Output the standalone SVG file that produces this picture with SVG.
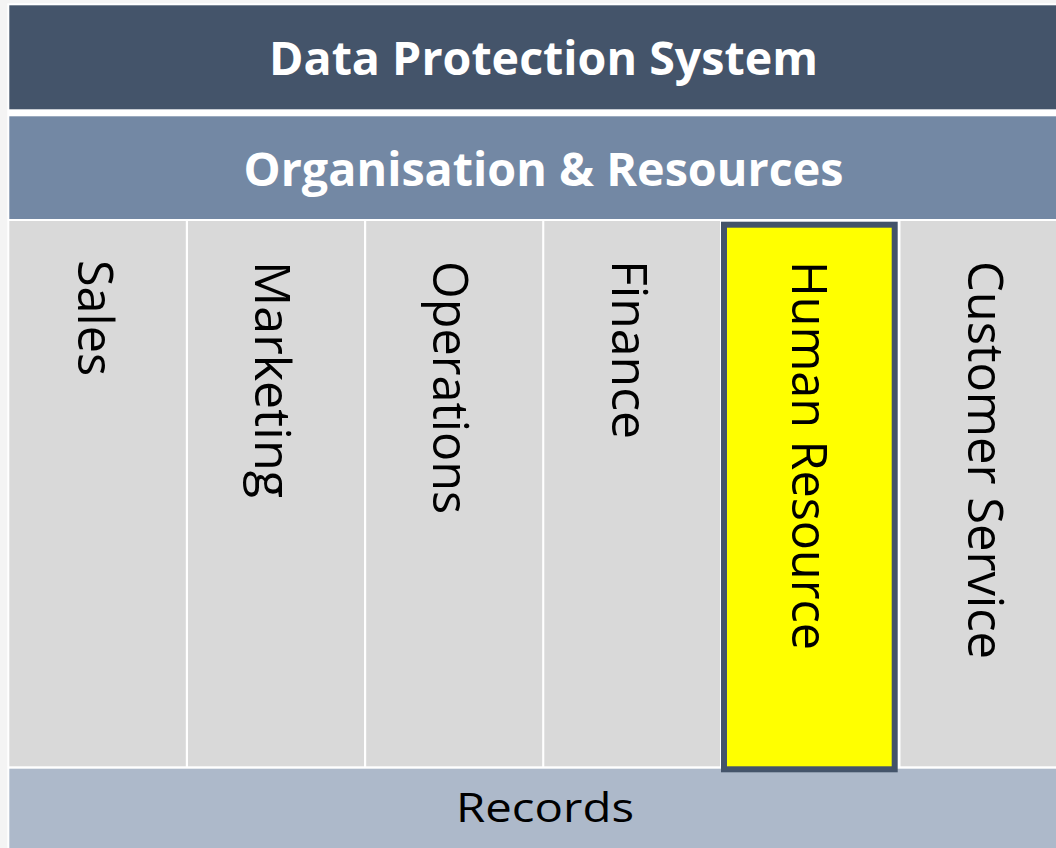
<svg xmlns="http://www.w3.org/2000/svg" width="1056" height="848" viewBox="0 0 1056 848">
  <style>
    .title { font-family: "Open Sans", "Liberation Sans", sans-serif; font-weight: bold; font-size: 47px; fill: #ffffff; }
    .dept { font-family: "Open Sans", "Liberation Sans", sans-serif; font-size: 50px; fill: #000000; }
    .rec { font-family: "Open Sans", "Liberation Sans", sans-serif; font-size: 41px; fill: #000000; }
    .col { fill: #d9d9d9; }
  </style>

  <!-- backdrop and slide area -->
  <rect x="0" y="0" width="1056" height="848" fill="#f4f4f4"/>
  <rect x="7.3" y="3.3" width="1048.7" height="844.7" fill="#ffffff"/>

  <g id="data-protection-system">
    <rect x="9.3" y="5.3" width="1046.7" height="104" fill="#44546a"/>
    <text class="title" x="543.5" y="75" text-anchor="middle" textLength="549" lengthAdjust="spacingAndGlyphs">Data Protection System</text>
  </g>

  <g id="organisation-resources">
    <rect x="9.3" y="116.3" width="1046.7" height="102.7" fill="#7388a4"/>
    <text class="title" x="543.5" y="186" text-anchor="middle" textLength="600" lengthAdjust="spacingAndGlyphs">Organisation &amp; Resources</text>
  </g>

  <g id="sales">
    <rect class="col" x="9.3" y="221" width="176.5" height="545.3"/>
    <text class="dept" transform="translate(77.5,260) rotate(90)" textLength="116" lengthAdjust="spacingAndGlyphs">Sales</text>
  </g>

  <g id="marketing">
    <rect class="col" x="188" y="221" width="176" height="545.3"/>
    <text class="dept" transform="translate(255,261) rotate(90)" textLength="237" lengthAdjust="spacingAndGlyphs">Marketing</text>
  </g>

  <g id="operations">
    <rect class="col" x="366.2" y="221" width="176" height="545.3"/>
    <text class="dept" transform="translate(433,261) rotate(90)" textLength="253" lengthAdjust="spacingAndGlyphs">Operations</text>
  </g>

  <g id="finance">
    <rect class="col" x="544.3" y="221" width="175.7" height="545.3"/>
    <text class="dept" transform="translate(611.5,260) rotate(90)" textLength="179" lengthAdjust="spacingAndGlyphs">Finance</text>
  </g>

  <g id="customer-service">
    <rect class="col" x="900.5" y="221" width="155.5" height="545.3"/>
    <text class="dept" transform="translate(968,261) rotate(90)" textLength="398" lengthAdjust="spacingAndGlyphs">Customer Service</text>
  </g>

  <g id="records">
    <rect x="9.3" y="768.7" width="1046.7" height="79.3" fill="#adb9ca"/>
    <text class="rec" x="545" y="822" text-anchor="middle" textLength="178" lengthAdjust="spacingAndGlyphs">Records</text>
  </g>

  <!-- highlighted department, drawn last so its frame overlaps the records bar -->
  <g id="human-resource">
    <rect x="724" y="224.7" width="170.7" height="544.6" fill="#ffff00" stroke="#44546a" stroke-width="6"/>
    <text class="dept" transform="translate(792,261) rotate(90)" textLength="389" lengthAdjust="spacingAndGlyphs">Human Resource</text>
  </g>
</svg>
